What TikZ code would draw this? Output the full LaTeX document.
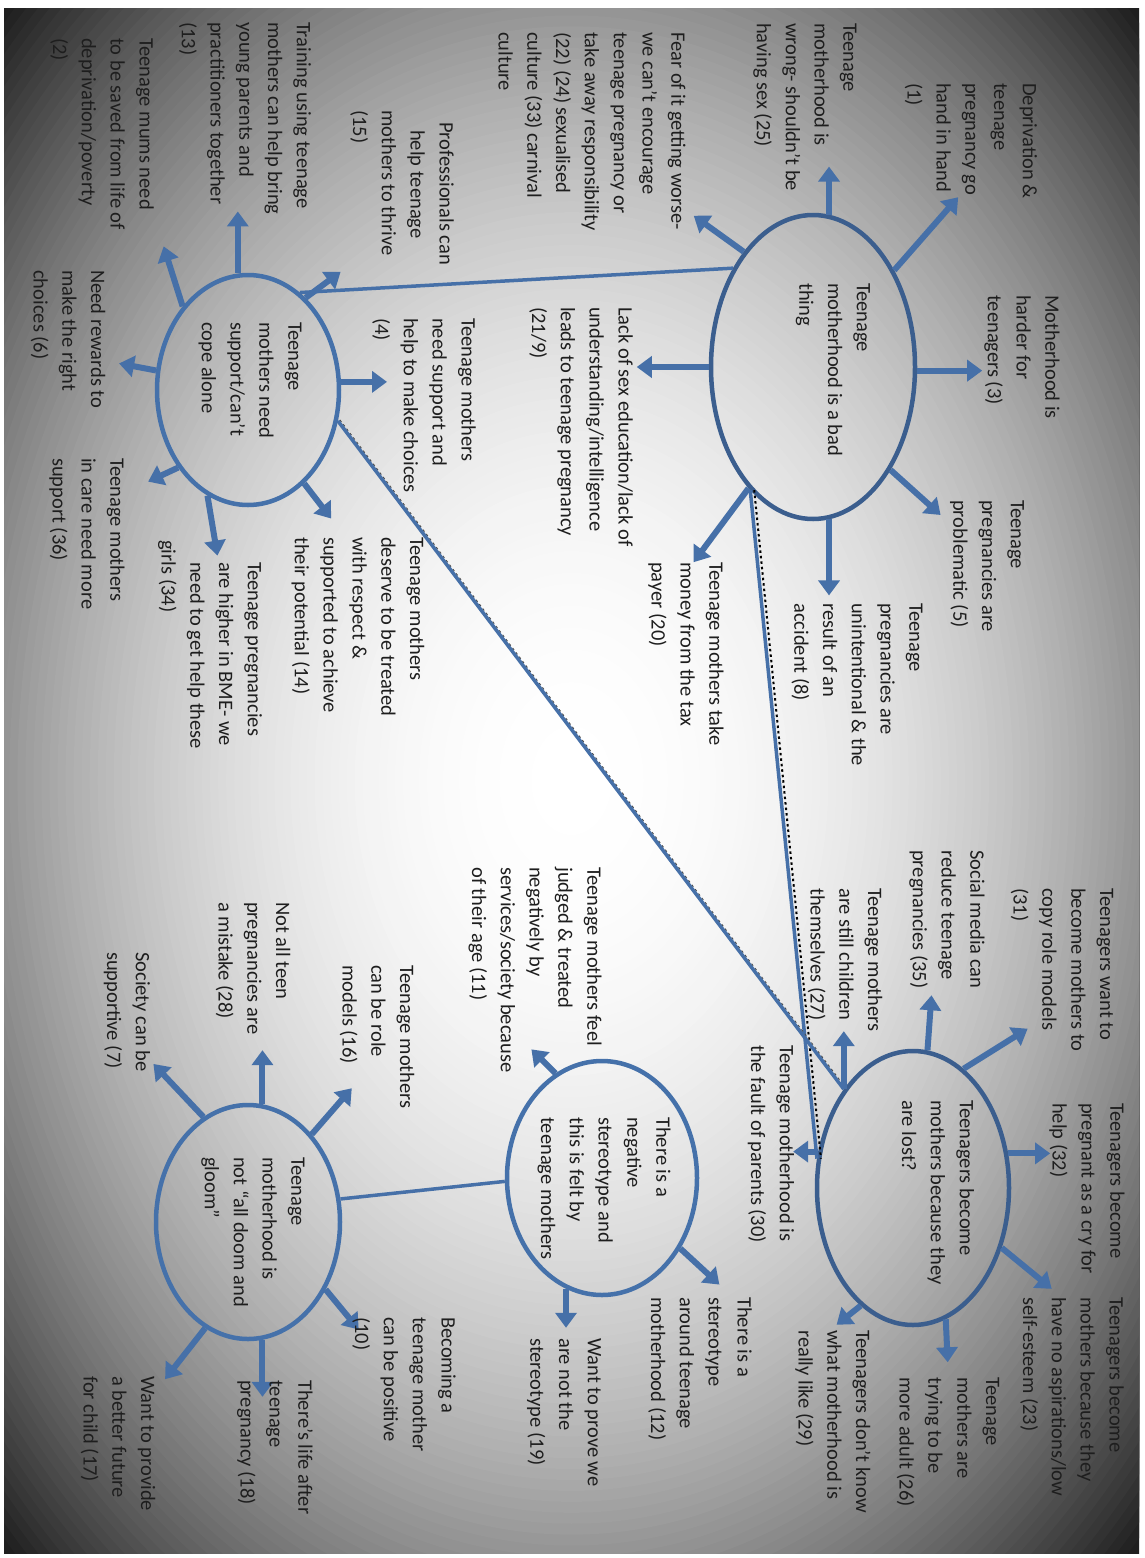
\documentclass[tikz,border=0pt]{standalone}
\usepackage{fontspec}
\setmainfont{Carlito}
\usetikzlibrary{arrows.meta,shapes.geometric}
\definecolor{arrowc}{HTML}{4670A8}
\definecolor{ellc}{HTML}{4571AA}
\definecolor{ellcdark}{HTML}{3B5E8E}
\definecolor{txtc}{HTML}{1E1E1E}
\tikzset{
  arr/.style={draw=arrowc, line width=6pt, -{Triangle[width=21pt,length=15pt]}},
  conn/.style={draw=arrowc, line width=3.5pt},
  specks/.style={draw=black, line width=2pt, dash pattern=on 2.5pt off 3pt},
  bubble/.style={ellipse, draw=ellc, line width=4.5pt, inner sep=0pt},
  lbl/.style={rotate=-90, align=left, anchor=west, inner sep=0pt, text=txtc, font=\fontsize{20.5}{28.8}\selectfont},
}
\begin{document}
\begin{tikzpicture}[x=1pt,y=-1pt]
\useasboundingbox (0,0) rectangle (1144,1558);
\fill[white] (0,0) rectangle (1144,1558);
% vignette background: concentric graded ellipses
\begin{scope}
\clip (4,8) rectangle (1139,1553);
\foreach \i in {100,99,...,1} {
  \pgfmathsetmacro{\rr}{\i/100}
  \pgfmathsetmacro{\gv}{1-0.88*pow(\rr,2.2)}
  \definecolor{vgc}{gray}{\gv}
  \fill[vgc] (571.5,780.5) ellipse [x radius=803*\rr, y radius=1093*\rr];
}
\end{scope}

% central bubbles
\node[bubble, draw=ellcdark, minimum width=204pt, minimum height=304pt] (A) at (813,367) {};
\node[bubble, minimum width=182pt, minimum height=230pt] (B) at (248,390) {};
\node[bubble, draw=ellcdark, minimum width=192pt, minimum height=274pt] (C) at (913,1188) {};
\node[bubble, minimum width=190pt, minimum height=234pt] (D) at (602,1178) {};
\node[bubble, minimum width=184pt, minimum height=234pt] (E) at (248,1222) {};

\node[lbl] (tA) at (833,283) {Teenage\\motherhood is a bad\\thing};
\node[lbl] (tB) at (250,322) {Teenage\\mothers need\\support/can’t\\cope alone};
\node[lbl] (tC) at (938,1100) {Teenagers become\\mothers because they\\are lost?};
\node[lbl] (tD) at (604,1117) {There is a\\negative\\stereotype and\\this is felt by\\teenage mothers};
\node[lbl] (tE) at (253,1157) {Teenage\\motherhood is\\not “all doom and\\gloom”};

% links between bubbles
\draw[conn] (A.129) -- (B.62);
\draw[specks] ([xshift=4pt]A.-117) -- ([xshift=4pt]C.163);
\draw[conn] (A.-117) -- (C.163);
\draw[specks, line width=1pt, draw=black!70] ([xshift=2pt,yshift=1pt]B.-19) -- ([xshift=2pt,yshift=1pt]C.125);
\draw[conn] (B.-19) -- (C.125);
\draw[conn] (D.182) -- (E.14);

% arrows of A
\draw[arr] (A.84) -- ++(0,-48);
\draw[arr] (A.50) -- ++(64,-73);
\draw[arr] (A.-2) -- ++(65,0);
\draw[arr] (A.-53) -- ++(50,45);
\draw[arr] (A.-84) -- ++(0,76);
\draw[arr] (A.-118) -- ++(-55,74);
\draw[arr] (A.180) -- ++(-72,0);
\draw[arr] (A.121) -- ++(-50,-36);
% arrows of B
\draw[arr] (B.58) -- ++(35,-26);
\draw[arr] (B.95) -- ++(0,-62);
\draw[arr] (B.128) -- ++(-19,-60);
\draw[arr] (B.168) -- ++(-37,-7);
\draw[arr] (B.5) -- ++(46,0);
\draw[arr] (B.-59) -- ++(27,35);
\draw[arr] (B.-111) -- ++(10,60);
\draw[arr] (B.-132) -- ++(-30,14);
% arrows of C
\draw[arr] (C.125) -- ++(0,-58);
\draw[arr] (C.84) -- ++(4,-55);
\draw[arr] (C.67) -- ++(64,-40);
\draw[arr] (C.20) -- ++(42,0);
\draw[arr] (C.-34) -- ++(50,41);
\draw[arr] (C.-76) -- ++(2,43);
\draw[arr] (C.-114) -- ++(-24,19);
\draw[arr] (C.159) -- ++(-25,0);
% arrows of D
\draw[arr] (D.114) -- ++(-24,-24);
\draw[arr] (D.-42) -- ++(39,36);
\draw[arr] (D.-108) -- ++(0,39);
% arrows of E
\draw[arr] (E.-41) -- ++(33,40);
\draw[arr] (E.-83) -- ++(0,57);
\draw[arr] (E.-112) -- ++(-40,51);
\draw[arr] (E.54) -- ++(40,-46);
\draw[arr] (E.83) -- ++(0,-54);
\draw[arr] (E.113) -- ++(-50,-53);

% labels around A
\node[lbl] (t1) at (971,83) {Deprivation \&\\teenage\\pregnancy go\\hand in hand\\(1)};
\node[lbl] (t25) at (805,23) {Teenage\\motherhood is\\wrong- shouldn’t be\\having sex (25)};
\node[lbl] (t3) at (1022,295) {Motherhood is\\harder for\\teenagers (3)};
\node[lbl] (t5) at (987,500) {Teenage\\pregnancies are\\problematic (5)};
\node[lbl] (t8) at (857,603) {Teenage\\pregnancies are\\unintentional \& the\\result of an\\accident (8)};
\node[lbl] (t22) at (592,32) {Fear of it getting worse-\\we can’t encourage\\teenage pregnancy or\\take away responsibility\\(22) (24) sexualised\\culture (33) carnival\\culture};
\node[lbl] (t21) at (581,307) {Lack of sex education/lack of\\understanding/intelligence\\leads to teenage pregnancy\\(21/9)};
\node[lbl] (t20) at (686,562) {Teenage mothers take\\money from the tax\\payer (20)};

% labels around B
\node[lbl] (t15) at (402,110) {\hspace*{12pt}Professionals can\\\hspace*{20pt}help teenage\\mothers to thrive\\(15)};
\node[lbl] (t4) at (424,318) {Teenage mothers\\need support and\\help to make choices\\(4)};
\node[lbl] (t14) at (358,537) {Teenage mothers\\deserve to be treated\\with respect \&\\supported to achieve\\their potential (14)};
\node[lbl] (t13) at (245,22) {Training using teenage\\mothers can help bring\\young parents and\\practitioners together\\(13)};
\node[lbl] (t2) at (102,38) {Teenage mums need\\to be saved from life of\\deprivation/poverty\\(2)};
\node[lbl] (t6) at (68,270) {Need rewards to\\make the right\\choices (6)};
\node[lbl] (t36) at (87,458) {Teenage mothers\\in care need more\\support (36)};
\node[lbl] (t34) at (210,562) {Teenage pregnancies\\are higher in BME- we\\need to get help these\\\hspace*{-22pt}girls (34)};

% labels around C
\node[lbl] (t30) at (771,1045) {Teenage motherhood is\\the fault of parents (30)};
\node[lbl] (t31) at (1062,888) {Teenagers want to\\become mothers to\\copy role models\\(31)};
\node[lbl] (t35) at (947,850) {Social media can\\reduce teenage\\pregnancies (35)};
\node[lbl] (t27) at (845,888) {Teenage mothers\\are still children\\themselves (27)};
\node[lbl] (t32) at (1087,1103) {Teenagers become\\pregnant as a cry for\\help (32)};
\node[lbl] (t23) at (1072,1297) {Teenagers become\\mothers because they\\have no aspirations/low\\self-esteem (23)};
\node[lbl] (t26) at (948,1377) {Teenage\\mothers are\\trying to be\\more adult (26)};
\node[lbl] (t29) at (833,1330) {Teenagers don’t know\\what motherhood is\\really like (29)};

% labels around D
\node[lbl] (t11) at (535,867) {Teenage mothers feel\\judged \& treated\\negatively by\\services/society because\\of their age (11)};
\node[lbl] (t12) at (700,1297) {There is a\\stereotype\\around teenage\\motherhood (12)};
\node[lbl] (t19) at (564,1338) {Want to prove we\\are not the\\stereotype (19)};

% labels around E
\node[lbl] (t16) at (377,965) {Teenage mothers\\can be role\\models (16)};
\node[lbl] (t10) at (404,1317) {Becoming a\\teenage mother\\can be positive\\(10)};
\node[lbl] (t28) at (253,902) {Not all teen\\pregnancies are\\a mistake (28)};
\node[lbl] (t7) at (127,952) {Society can be\\supportive (7)};
\node[lbl] (t18) at (275,1380) {There’s life after\\teenage\\pregnancy (18)};
\node[lbl] (t17) at (118,1376) {Want to provide\\a better future\\for child (17)};
\end{tikzpicture}
\end{document}
